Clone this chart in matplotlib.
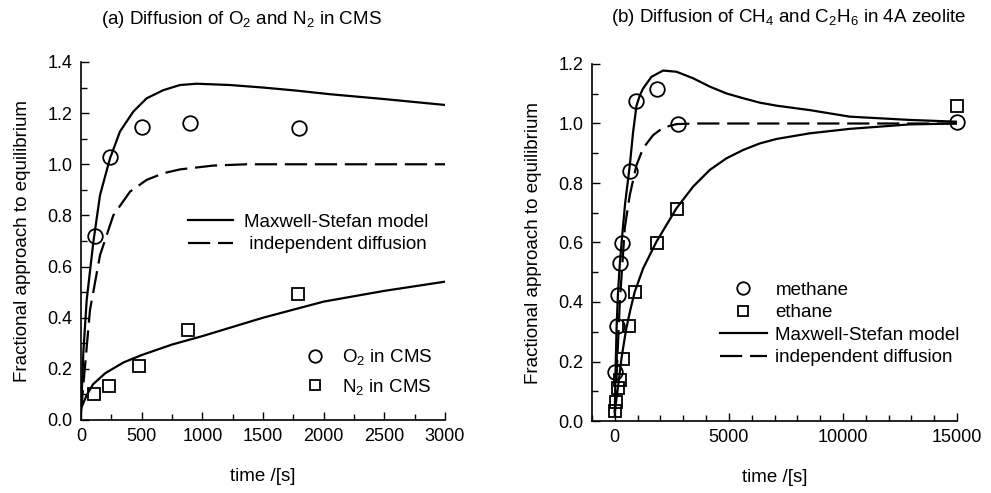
import numpy as np
import matplotlib
matplotlib.use("Agg")
import matplotlib.pyplot as plt
from matplotlib.lines import Line2D
from matplotlib.ticker import MultipleLocator, FormatStrFormatter

plt.rcParams['font.family'] = ['Liberation Sans', 'DejaVu Sans']
plt.rcParams['mathtext.fontset'] = 'custom'
plt.rcParams['mathtext.rm'] = 'Liberation Sans'
plt.rcParams['mathtext.it'] = 'Liberation Sans:italic'
plt.rcParams['mathtext.default'] = 'regular'

# ---- (a) O2 / N2 in CMS ----
o2_t = [115, 240, 500, 900, 1800]
o2_y = [0.72, 1.03, 1.145, 1.16, 1.14]
n2_t = [110, 232, 481, 880, 1790]
n2_y = [0.10, 0.133, 0.212, 0.352, 0.493]

o2_ms_t = [0, 20, 47, 102, 157, 239, 321, 431, 541, 679, 816, 953, 1228, 1503, 1778, 2052, 2500, 3000]
o2_ms_y = [0.03, 0.27, 0.47, 0.697, 0.88, 1.023, 1.128, 1.206, 1.258, 1.29, 1.31, 1.315, 1.31, 1.30, 1.288, 1.274, 1.255, 1.232]
o2_ind_t = [0, 33, 74, 157, 266, 404, 541, 679, 816, 1091, 1365, 2000, 3000]
o2_ind_y = [0.03, 0.21, 0.43, 0.645, 0.80, 0.893, 0.939, 0.965, 0.98, 0.995, 1.0, 1.0, 1.0]
n2_ms_t = [0, 50, 100, 200, 350, 500, 750, 1000, 1500, 2000, 2500, 3000]
n2_ms_y = [0.045, 0.10, 0.14, 0.183, 0.225, 0.254, 0.295, 0.328, 0.40, 0.463, 0.505, 0.541]

# ---- (b) CH4 / C2H6 in 4A zeolite ----
ch4_t = [30, 80, 140, 220, 320, 658, 950, 1870, 2750, 15000]
ch4_y = [0.165, 0.32, 0.425, 0.53, 0.60, 0.84, 1.075, 1.115, 1.0, 1.005]
c2h6_t = [30, 70, 150, 220, 370, 630, 900, 1830, 2710, 15000]
c2h6_y = [0.032, 0.065, 0.11, 0.138, 0.21, 0.32, 0.432, 0.60, 0.712, 1.06]

ch4_ms_t = [0, 30, 80, 140, 220, 320, 450, 658, 800, 950, 1100, 1242, 1607, 2118, 2703, 3434,
            4164, 4895, 5625, 6356, 7087, 8548, 10301, 12932, 15000]
ch4_ms_y = [0.03, 0.16, 0.32, 0.43, 0.53, 0.62, 0.73, 0.86, 0.97, 1.06, 1.095, 1.118, 1.157, 1.178,
            1.174, 1.152, 1.124, 1.101, 1.085, 1.07, 1.06, 1.045, 1.023, 1.012, 1.006]
ch4_ind_t = [0, 60, 219, 438, 658, 950, 1242, 1680, 2118, 2703, 3500, 15000]
ch4_ind_y = [0.03, 0.12, 0.40, 0.65, 0.76, 0.86, 0.917, 0.961, 0.986, 0.998, 1.0, 1.0]
c2h6_ms_t = [0, 30, 150, 290, 500, 700, 877, 1242, 1827, 2703, 3434, 4164, 4895, 5625, 6356,
             7087, 8548, 10301, 12932, 15000]
c2h6_ms_y = [0.02, 0.05, 0.12, 0.21, 0.31, 0.38, 0.435, 0.513, 0.603, 0.715, 0.788, 0.844, 0.883,
             0.911, 0.933, 0.948, 0.967, 0.982, 0.997, 1.0]

LW = 1.6
DASH = (10, 3.5)
FS = 13.5

fig = plt.figure(figsize=(9.91, 4.93), dpi=100)
ax1 = fig.add_axes([81/991, 1 - 420/493, 364/991, 358/493])
ax2 = fig.add_axes([592/991, 1 - 421/493, 365/991, 357/493])

def style(ax):
    for s in ['top', 'right']:
        ax.spines[s].set_visible(False)
    for s in ['left', 'bottom']:
        ax.spines[s].set_linewidth(1.2)
    ax.tick_params(which='both', direction='in', labelsize=13, width=1.0)
    ax.tick_params(which='major', length=6, pad=6)
    ax.tick_params(which='minor', length=4)
    ax.yaxis.set_major_formatter(FormatStrFormatter('%.1f'))

# panel (a)
ax1.plot(o2_ms_t, o2_ms_y, 'k-', lw=LW)
ax1.plot(o2_ind_t, o2_ind_y, 'k--', lw=LW, dashes=DASH)
ax1.plot(n2_ms_t, n2_ms_y, 'k-', lw=LW)
ax1.plot(o2_t, o2_y, 'o', ms=10.5, mfc='none', mec='k', mew=1.3, clip_on=False)
ax1.plot(n2_t, n2_y, 's', ms=8.5, mfc='none', mec='k', mew=1.3, clip_on=False)
ax1.set_xlim(0, 3000)
ax1.set_ylim(0, 1.4)
ax1.xaxis.set_major_locator(MultipleLocator(500))
ax1.xaxis.set_minor_locator(MultipleLocator(250))
ax1.yaxis.set_major_locator(MultipleLocator(0.2))
ax1.yaxis.set_minor_locator(MultipleLocator(0.1))
style(ax1)
ax1.set_xlabel('time /[s]', fontsize=FS, labelpad=16)
ax1.set_ylabel('Fractional approach to equilibrium', fontsize=FS, labelpad=12)

lines_a = [Line2D([], [], color='k', lw=LW),
           Line2D([], [], color='k', lw=LW, ls='--', dashes=DASH)]
leg1 = ax1.legend(lines_a, ['Maxwell-Stefan model', ' independent diffusion'],
                  loc='center left', bbox_to_anchor=(188/991, 1 - 233.5/493),
                  bbox_transform=fig.transFigure, frameon=False, fontsize=FS,
                  handlelength=2.4, handletextpad=0.6, labelspacing=0.3,
                  borderpad=0, borderaxespad=0)
ax1.add_artist(leg1)
marks_a = [Line2D([], [], ls='none', marker='o', ms=9, mfc='none', mec='k', mew=1.3),
           Line2D([], [], ls='none', marker='s', ms=7.5, mfc='none', mec='k', mew=1.3)]
ax1.legend(marks_a, ['O$_2$ in CMS', 'N$_2$ in CMS'],
           loc='center left', bbox_to_anchor=(306/991, 1 - 372/493),
           bbox_transform=fig.transFigure, frameon=False, fontsize=FS,
           handlelength=1.0, handletextpad=0.9, labelspacing=0.5,
           borderpad=0, borderaxespad=0)

# panel (b)
ax2.plot(ch4_ms_t, ch4_ms_y, 'k-', lw=LW)
ax2.plot(ch4_ind_t, ch4_ind_y, 'k--', lw=LW, dashes=DASH)
ax2.plot(c2h6_ms_t, c2h6_ms_y, 'k-', lw=LW)
ax2.plot(ch4_t, ch4_y, 'o', ms=10.5, mfc='none', mec='k', mew=1.3, clip_on=False)
ax2.plot(c2h6_t, c2h6_y, 's', ms=8.5, mfc='none', mec='k', mew=1.3, clip_on=False)
ax2.set_xlim(-1000, 15000)
ax2.set_ylim(0, 1.2)
ax2.xaxis.set_major_locator(MultipleLocator(5000))
ax2.xaxis.set_minor_locator(MultipleLocator(1000))
ax2.yaxis.set_major_locator(MultipleLocator(0.2))
ax2.yaxis.set_minor_locator(MultipleLocator(0.1))
style(ax2)
ax2.set_xlabel('time /[s]', fontsize=FS, labelpad=16)
ax2.set_ylabel('Fractional approach to equilibrium', fontsize=FS, labelpad=12)

hand_b = [Line2D([], [], ls='none', marker='o', ms=9, mfc='none', mec='k', mew=1.3),
          Line2D([], [], ls='none', marker='s', ms=7.5, mfc='none', mec='k', mew=1.3),
          Line2D([], [], color='k', lw=LW),
          Line2D([], [], color='k', lw=LW, ls='--', dashes=DASH)]
ax2.legend(hand_b, ['methane', 'ethane', 'Maxwell-Stefan model', 'independent diffusion'],
           loc='center left', bbox_to_anchor=(720/991, 1 - 324/493),
           bbox_transform=fig.transFigure, frameon=False, fontsize=FS,
           handlelength=2.5, handletextpad=0.45, labelspacing=0.28,
           borderpad=0, borderaxespad=0)

fig.text(241/991, 1 - 19/493, '(a) Diffusion of O$_2$ and N$_2$ in CMS',
         ha='center', va='center', fontsize=FS)
fig.text(789/991, 1 - 18/493, '(b) Diffusion of CH$_4$ and C$_2$H$_6$ in 4A zeolite',
         ha='center', va='center', fontsize=FS)

fig.savefig('out.png', dpi=100)
